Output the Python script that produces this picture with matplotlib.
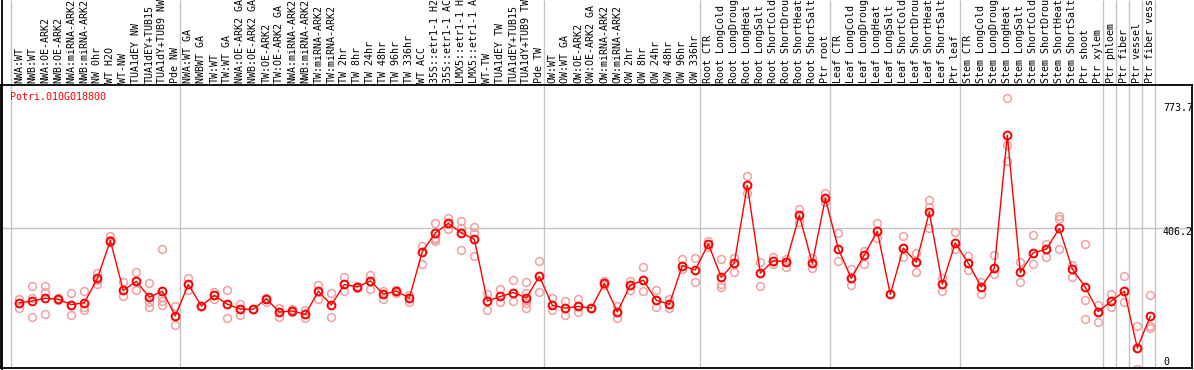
import matplotlib
matplotlib.use('Agg')
import matplotlib.pyplot as plt
from matplotlib.lines import Line2D

# ---------------- data ----------------
title = "Potri.010G018800"

labels_g1 = ["NWA:WT", "NWB:WT", "NWA:OE-ARK2", "NWB:OE-ARK2", "NWA:miRNA-ARK2",
             "NWB:miRNA-ARK2", "NW 0hr", "WT H2O", "WT-NW", "TUA1dEY NW",
             "TUA1dEY+TUB15", "TUA1dY+TUB9 NW", "Pde NW"]
labels_g2 = ["NWA:WT GA", "NWBWT GA", "TW:WT", "TW:WT GA", "NWA:OE-ARK2 GA",
             "NWB:OE-ARK2 GA", "TW:OE-ARK2", "TW:OE-ARK2 GA", "NWA:miRNA-ARK2",
             "NWB:miRNA-ARK2", "TW:miRNA-ARK2", "TW:miRNA-ARK2", "TW 2hr", "TW 8hr",
             "TW 24hr", "TW 48hr", "TW 96hr", "TW 336hr", "WT ACC", "35S::etr1-1 H2O",
             "35S::etr1-1 ACC", "LMX5::etr1-1 H2O", "LMX5::etr1-1 ACC", "WT-TW",
             "TUA1dEY TW", "TUA1dEY+TUB15", "TUA1dY+TUB9 TW", "Pde TW"]
labels_g3 = ["OW:WT", "OW:WT GA", "OW:OE-ARK2", "OW:OE-ARK2 GA", "OW:miRNA-ARK2",
             "OW:miRNA-ARK2", "OW 2hr", "OW 8hr", "OW 24hr", "OW 48hr", "OW 96hr",
             "OW 336hr"]
labels_g4 = ["Root CTR", "Root LongCold", "Root LongDrought", "Root LongHeat",
             "Root LongSalt", "Root ShortCold", "Root ShortDrought", "Root ShortHeat",
             "Root ShortSalt", "Ptr root"]
labels_g5 = ["Leaf CTR", "Leaf LongCold", "Leaf LongDrought", "Leaf LongHeat",
             "Leaf LongSalt", "Leaf ShortCold", "Leaf ShortDrought", "Leaf ShortHeat",
             "Leaf ShortSalt", "Ptr leaf"]
labels_g6 = ["Stem CTR", "Stem LongCold", "Stem LongDrought", "Stem LongHeat",
             "Stem LongSalt", "Stem ShortCold", "Stem ShortDrought", "Stem ShortHeat",
             "Stem ShortSalt", "Ptr shoot", "Ptr xylem"]
labels_g7 = ["Ptr phloem", "Ptr fiber", "Ptr vessel", "Ptr fiber vessel"]

means = [195, 200, 208, 205, 190, 195, 264, 371, 230, 256, 211, 228, 158,
         247, 186, 216, 191, 177, 177, 206, 169, 172, 162, 228, 189, 247, 240, 257,
         220, 228, 209, 340, 393, 420, 393, 375, 200, 213, 224, 209, 270,
         188, 180, 185, 180, 250, 169, 245, 259, 202, 191, 300, 288,
         362, 267, 308, 528, 279, 314, 312, 443, 307, 491,
         348, 264, 331, 398, 219, 350, 310, 452, 248, 365,
         307, 240, 293, 670, 281, 337, 347, 406, 291, 239, 170,
         200, 228, 67, 157]

replicates = [
    [205, 195, 181], [242, 210, 155], [242, 226, 162], [208, 205, 202],
    [222, 189, 160], [228, 184, 175], [279, 260, 248], [384, 373, 368],
    [253, 231, 215], [281, 256, 230], [250, 196, 184], [347, 228, 212, 200, 190],
    [185, 158, 131],
    [264, 247, 230], [186, 186, 186], [225, 216, 207], [230, 191, 152],
    [192, 177, 160], [177, 177, 177], [208, 206, 198], [180, 168, 155],
    [177, 174, 168], [174, 162, 153], [245, 228, 207], [222, 188, 155],
    [269, 247, 228], [242, 240, 238], [274, 257, 233], [228, 220, 206],
    [231, 228, 222], [216, 209, 196], [357, 340, 305], [420, 380, 375, 370],
    [436, 420, 403], [426, 406, 344], [409, 392, 327], [219, 200, 174],
    [233, 213, 196], [259, 224, 199], [253, 222, 203, 194, 181], [313, 270, 225],
    [209, 188, 175], [199, 180, 160], [206, 185, 168], [180, 180, 180],
    [258, 250, 245], [186, 169, 151], [258, 245, 231], [296, 259, 228],
    [230, 202, 184], [206, 191, 181], [318, 300, 290], [321, 288, 253],
    [370, 362, 354], [318, 248, 239], [323, 308, 281], [554, 528, 507],
    [310, 279, 242], [326, 314, 305], [319, 312, 297], [461, 443, 425],
    [321, 307, 295], [506, 491, 482],
    [392, 348, 314], [290, 264, 245], [342, 331, 305], [420, 398, 378],
    [219, 219, 219], [384, 350, 326], [337, 310, 283], [486, 467, 407],
    [264, 248, 228], [395, 365, 347],
    [329, 307, 288], [253, 240, 219], [331, 293, 276], [775, 641, 596],
    [311, 281, 253], [386, 337, 305], [362, 347, 324], [440, 432, 347],
    [302, 291, 267], [361, 202, 150], [189, 170, 140], [219, 200, 182],
    [271, 228, 196], [128, 67, 6], [216, 128, 124]]

group_bounds = [0, 13, 41, 53, 63, 73, 84, 85, 86, 87, 88]
ytick_values = [773.7, 406.2, 0]
ytick_texts = ["773.7", "406.2", "0"]
grid_value = 406.2
y_top_value = 812.4

labels = labels_g1 + labels_g2 + labels_g3 + labels_g4 + labels_g5 + labels_g6 + labels_g7

# ---------------- layout ----------------
W, H = 1194, 370
fig = plt.figure(figsize=(W / 100, H / 100), dpi=100)
ax_l, ax_r, ax_t, ax_b = 1, 1192, 85, 368
ax = fig.add_axes([ax_l / W, (H - ax_b) / H, (ax_r - ax_l) / W, (ax_b - ax_t) / H])
SLOT0, SLOTW = 11, 13
ax.set_xlim((ax_l - SLOT0) / SLOTW, (ax_r - SLOT0) / SLOTW)
ax.set_ylim(10.2, y_top_value)
ax.set_xticks([])
ax.set_yticks([])
for s in ax.spines.values():
    s.set_color('black')
    s.set_linewidth(1.3)

mono = 'DejaVu Sans Mono'
fs = 7.2
grey = '#c4c4c4'
xs = [i + 0.64 for i in range(len(means))]

# grid lines
xtrans = ax.get_xaxis_transform()
top_ext = ax_b / (ax_b - ax_t)
ax.vlines(group_bounds, 0, top_ext, transform=xtrans, colors=grey, lw=1.0,
          clip_on=False, zorder=0)
ax.axhline(grid_value, color=grey, lw=1.0, zorder=0)

# left border through the label area
fig.add_artist(Line2D([1.5 / W, 1.5 / W], [0, 1], color='black', lw=1.3))

# replicate points
for xi, reps in zip(xs, replicates):
    ax.plot([xi] * len(reps), reps, linestyle='none', marker='o', ms=5.6,
            mfc='none', mec='#f0a0a0', mew=1.1, zorder=2)

# mean line + markers
ax.plot(xs, means, color='#ff0000', lw=1.0, marker='o', ms=5.6, mfc='none',
        mec='#ff0000', mew=1.4, zorder=3)

# rotated sample labels
for xi, lab in zip(xs, labels):
    ax.text(xi, 1 + 2 / (ax_b - ax_t), lab, rotation=90, ha='center', va='bottom',
            fontsize=fs, family=mono, transform=xtrans, clip_on=False)

# title
fig.text(10 / W, 1 - 97 / H, title, color='red', ha='left', va='center',
         fontsize=fs, family=mono)

# right value labels
offsets_px = [9, 4, -10]
for v, t, off in zip(ytick_values, ytick_texts, offsets_px):
    ax.annotate(t, xy=(1163 / W, v), xycoords=('figure fraction', 'data'),
                xytext=(0, -off * 0.72), textcoords='offset points',
                ha='left', va='center', fontsize=fs, family=mono,
                annotation_clip=False)

fig.savefig('out.png', dpi=100)
